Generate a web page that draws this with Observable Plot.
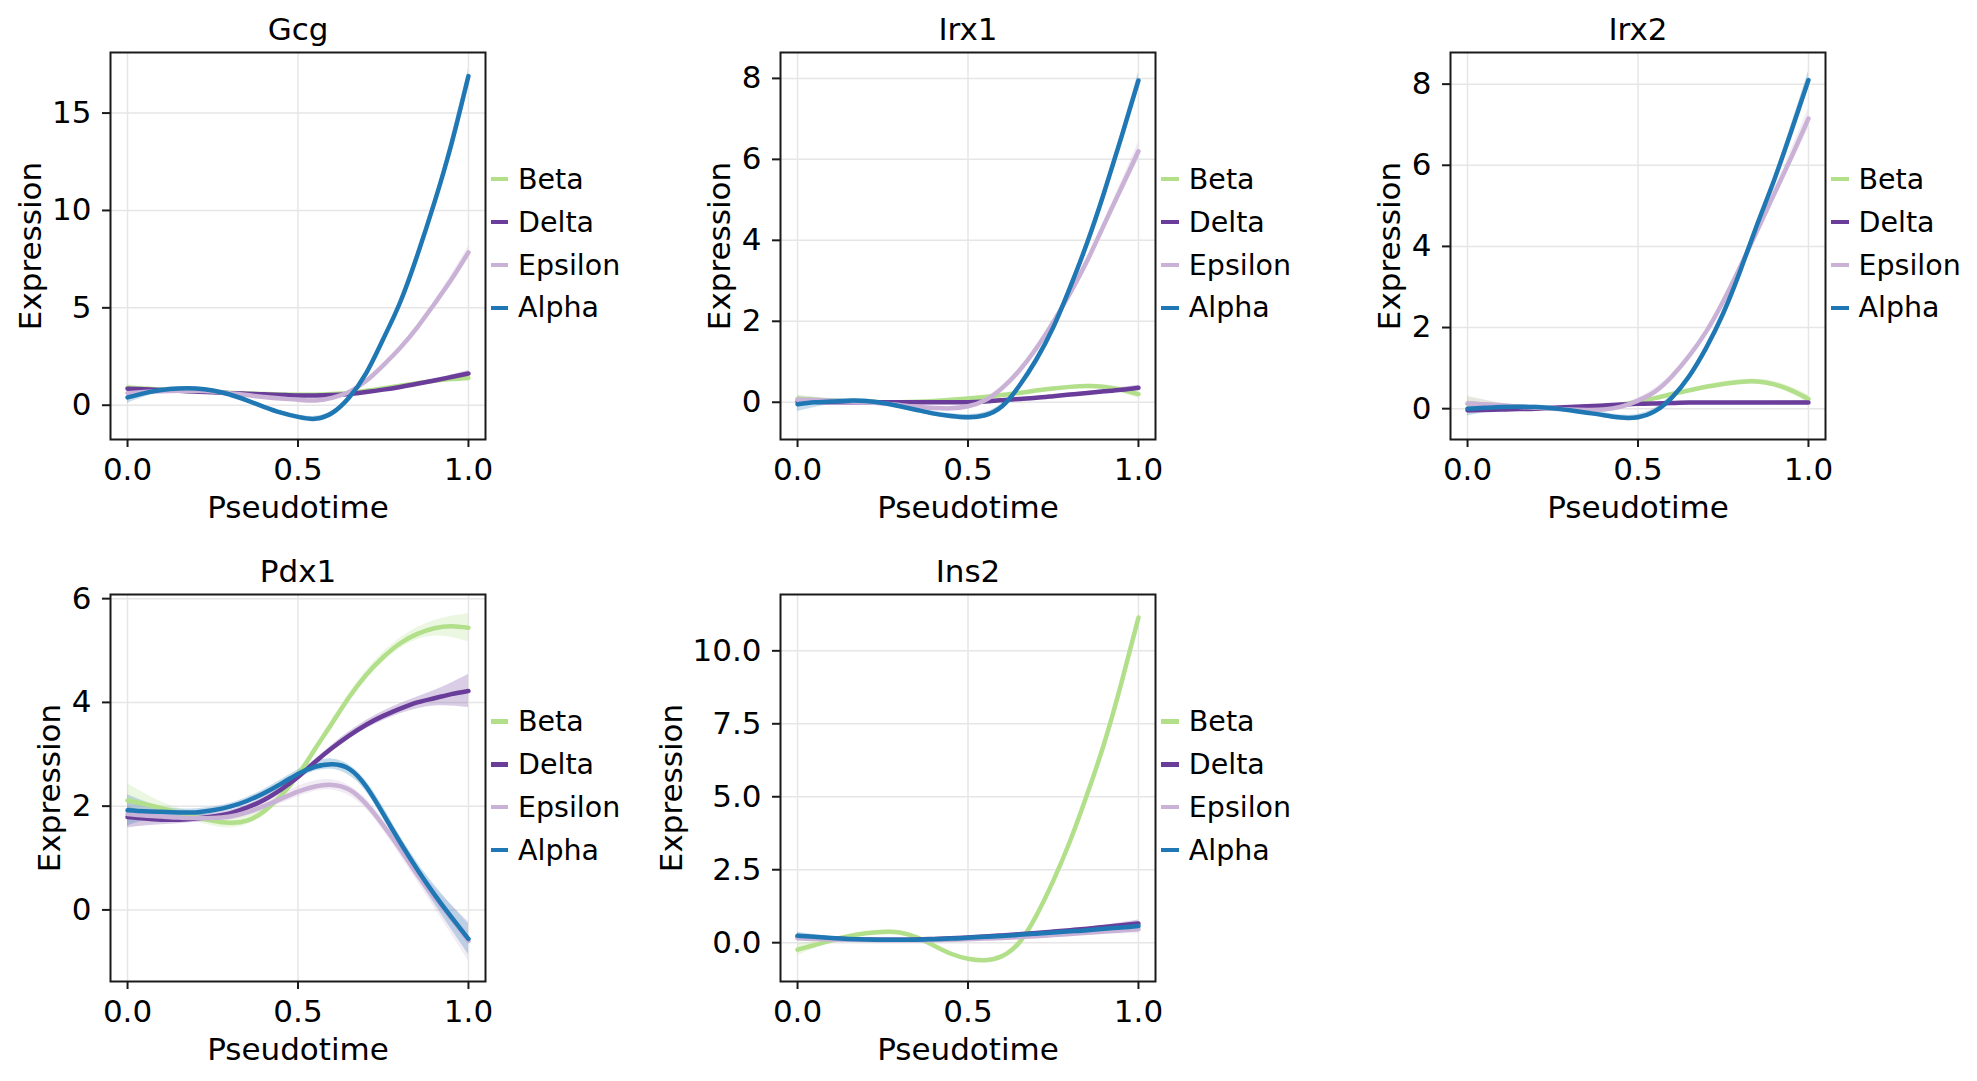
<!DOCTYPE html>
<html><head><meta charset="utf-8">
<script src="https://cdn.jsdelivr.net/npm/d3@7"></script>
<script src="https://cdn.jsdelivr.net/npm/@observablehq/plot@0.6"></script>
<style>
html,body{margin:0;padding:0;background:#fff;overflow:hidden;}
#fig{position:relative;width:1977px;height:1081px;overflow:hidden;background:#fff;}
.panel{position:absolute;}
.legend{position:absolute;font-family:"DejaVu Sans";font-size:28.5px;color:#000;}
.row{display:flex;align-items:center;height:42.9px;white-space:nowrap;}
.sw{width:17.5px;height:4.2px;margin-right:10px;flex:none;}
</style></head><body><div id="fig"></div><script>
// ---------- data ----------
const pseudotime = [0,0.05,0.1,0.15,0.2,0.25,0.3,0.35,0.4,0.45,0.5,0.55,0.6,0.65,0.7,0.75,0.8,0.85,0.9,0.95,1];
const ciTime = [0,0.1,0.2,0.3,0.4,0.5,0.6,0.7,0.8,0.9,1];
const genes = ["Gcg","Irx1","Irx2","Pdx1","Ins2"];
const cellTypes = ["Beta","Delta","Epsilon","Alpha"];
const cellColors = ["#b2df8a","#6a3d9a","#cab2d6","#1f78b4"];
const xTicks = [0,0.5,1];

const gcgBeta    = [0.9,0.85,0.8,0.76,0.72,0.68,0.64,0.6,0.57,0.55,0.54,0.54,0.57,0.63,0.74,0.86,1.0,1.13,1.25,1.34,1.4];
const gcgDelta   = [0.85,0.82,0.78,0.74,0.7,0.66,0.62,0.59,0.56,0.53,0.5,0.5,0.52,0.58,0.68,0.8,0.94,1.1,1.27,1.45,1.63];
const gcgEpsilon = [0.62,0.68,0.72,0.74,0.74,0.7,0.62,0.52,0.42,0.34,0.28,0.24,0.38,0.68,1.25,2.05,2.95,4.0,5.2,6.45,7.85];
const gcgAlpha   = [0.4,0.62,0.78,0.86,0.86,0.76,0.55,0.25,-0.08,-0.38,-0.6,-0.7,-0.4,0.4,1.65,3.4,5.3,7.7,10.4,13.4,16.9];

const irx1Beta    = [0.08,0.06,0.04,0.02,0.01,0.0,0.0,0.01,0.03,0.06,0.09,0.13,0.18,0.23,0.29,0.34,0.38,0.4,0.38,0.31,0.2];
const irx1Delta   = [0.02,0.01,0.0,0.0,0.0,0.0,0.0,0.0,0.0,0.0,0.0,0.02,0.05,0.08,0.11,0.15,0.19,0.23,0.27,0.31,0.36];
const irx1Epsilon = [0.06,0.05,0.04,0.02,0.0,-0.03,-0.07,-0.11,-0.14,-0.15,-0.1,0.05,0.35,0.78,1.33,1.98,2.7,3.5,4.4,5.3,6.2];
const irx1Alpha   = [-0.05,0.0,0.02,0.04,0.03,-0.02,-0.1,-0.19,-0.28,-0.34,-0.37,-0.32,-0.1,0.4,1.05,1.85,2.85,3.95,5.2,6.55,7.95];

const irx2Beta    = [0.12,0.1,0.07,0.04,0.02,0.01,0.01,0.02,0.05,0.1,0.17,0.26,0.36,0.45,0.54,0.61,0.66,0.67,0.6,0.45,0.24];
const irx2Delta   = [-0.04,-0.03,-0.02,-0.01,0.0,0.02,0.04,0.06,0.08,0.1,0.12,0.13,0.14,0.15,0.15,0.15,0.15,0.15,0.15,0.15,0.15];
const irx2Epsilon = [0.13,0.11,0.08,0.05,0.02,0.0,-0.02,-0.03,-0.02,0.05,0.2,0.42,0.8,1.3,1.9,2.65,3.5,4.4,5.3,6.2,7.15];
const irx2Alpha   = [0.0,0.02,0.04,0.05,0.04,0.01,-0.04,-0.1,-0.16,-0.22,-0.21,-0.06,0.28,0.8,1.5,2.35,3.4,4.55,5.65,6.85,8.1];

const pdx1Beta    = [2.11,2.04,1.96,1.87,1.79,1.72,1.68,1.72,1.9,2.2,2.6,3.1,3.6,4.1,4.53,4.87,5.14,5.32,5.43,5.47,5.44];
const pdx1Delta   = [1.79,1.76,1.74,1.74,1.76,1.8,1.86,1.97,2.12,2.32,2.56,2.85,3.12,3.36,3.57,3.74,3.88,4.0,4.08,4.16,4.22];
const pdx1Epsilon = [1.85,1.82,1.8,1.78,1.77,1.77,1.8,1.88,2.0,2.14,2.28,2.38,2.41,2.32,2.04,1.63,1.17,0.68,0.24,-0.17,-0.6];
const pdx1Alpha   = [1.92,1.9,1.89,1.88,1.88,1.92,1.99,2.1,2.25,2.43,2.62,2.76,2.81,2.72,2.38,1.85,1.3,0.78,0.3,-0.14,-0.56];

const ins2Beta    = [-0.24,-0.08,0.08,0.22,0.32,0.37,0.35,0.18,-0.1,-0.38,-0.55,-0.6,-0.46,0.0,0.92,2.12,3.5,5.1,6.85,8.9,11.14];
const ins2Delta   = [0.2,0.17,0.14,0.12,0.11,0.1,0.1,0.11,0.13,0.15,0.18,0.21,0.25,0.29,0.33,0.38,0.43,0.48,0.54,0.6,0.66];
const ins2Epsilon = [0.15,0.13,0.11,0.1,0.09,0.08,0.08,0.08,0.09,0.1,0.12,0.14,0.16,0.19,0.22,0.26,0.3,0.34,0.38,0.42,0.46];
const ins2Alpha   = [0.24,0.2,0.16,0.13,0.11,0.1,0.1,0.1,0.12,0.14,0.17,0.2,0.23,0.27,0.31,0.35,0.39,0.43,0.48,0.52,0.57];

// confidence half-widths at ciTime
const gcgBetaCi    = [0.15,0.08,0.06,0.05,0.05,0.05,0.05,0.05,0.06,0.08,0.15];
const gcgDeltaCi   = [0.12,0.07,0.05,0.04,0.04,0.04,0.04,0.04,0.05,0.07,0.15];
const gcgEpsilonCi = [0.15,0.08,0.06,0.05,0.06,0.07,0.08,0.08,0.1,0.15,0.3];
const gcgAlphaCi   = [0.3,0.12,0.08,0.07,0.08,0.1,0.1,0.1,0.12,0.18,0.35];
const irx1BetaCi    = [0.1,0.04,0.03,0.03,0.03,0.03,0.03,0.03,0.04,0.05,0.1];
const irx1DeltaCi   = [0.06,0.03,0.02,0.02,0.02,0.02,0.02,0.02,0.03,0.04,0.06];
const irx1EpsilonCi = [0.1,0.05,0.04,0.04,0.05,0.06,0.06,0.06,0.08,0.1,0.22];
const irx1AlphaCi   = [0.18,0.07,0.05,0.05,0.06,0.07,0.07,0.07,0.08,0.1,0.2];
const irx2BetaCi    = [0.2,0.06,0.04,0.04,0.04,0.04,0.04,0.05,0.06,0.07,0.1];
const irx2DeltaCi   = [0.08,0.03,0.02,0.02,0.02,0.02,0.02,0.02,0.03,0.04,0.06];
const irx2EpsilonCi = [0.15,0.06,0.04,0.04,0.05,0.06,0.06,0.06,0.08,0.12,0.25];
const irx2AlphaCi   = [0.18,0.07,0.05,0.05,0.06,0.07,0.07,0.07,0.08,0.1,0.22];
const pdx1BetaCi    = [0.32,0.12,0.08,0.1,0.08,0.08,0.08,0.08,0.1,0.15,0.27];
const pdx1DeltaCi   = [0.2,0.1,0.07,0.06,0.06,0.06,0.06,0.08,0.1,0.15,0.32];
const pdx1EpsilonCi = [0.28,0.12,0.08,0.07,0.08,0.1,0.1,0.1,0.12,0.2,0.38];
const pdx1AlphaCi   = [0.3,0.1,0.07,0.06,0.07,0.08,0.1,0.1,0.12,0.18,0.3];
const ins2BetaCi    = [0.2,0.08,0.06,0.05,0.05,0.05,0.05,0.05,0.06,0.08,0.12];
const ins2DeltaCi   = [0.1,0.04,0.03,0.03,0.03,0.03,0.03,0.03,0.04,0.06,0.12];
const ins2EpsilonCi = [0.12,0.05,0.04,0.04,0.04,0.04,0.04,0.04,0.05,0.08,0.15];
const ins2AlphaCi   = [0.12,0.05,0.04,0.04,0.04,0.04,0.04,0.04,0.05,0.06,0.1];

// y tick labels
const gcgTicks  = [0,5,10,15];
const irx1Ticks = [0,2,4,6,8];
const irx2Ticks = [0,2,4,6,8];
const pdx1Ticks = [0,2,4,6];
const ins2Ticks = [0,2.5,5,7.5,10];

// ---------- layout ----------
const FW = 375, FH = 387, ML = 135, MR = 6, MT = 60, MB = 95;
const TICK_FONT = 31, LABEL_FONT = 31;
const panels = [
  {name: genes[0], series: [gcgBeta,gcgDelta,gcgEpsilon,gcgAlpha], ci: [gcgBetaCi,gcgDeltaCi,gcgEpsilonCi,gcgAlphaCi], ticks: gcgTicks, fmt: d3.format("d"), domain: [-1.76, 18.11], left: 109.5, top: 51.7},
  {name: genes[1], series: [irx1Beta,irx1Delta,irx1Epsilon,irx1Alpha], ci: [irx1BetaCi,irx1DeltaCi,irx1EpsilonCi,irx1AlphaCi], ticks: irx1Ticks, fmt: d3.format("d"), domain: [-0.92, 8.64], left: 780.3, top: 51.7},
  {name: genes[2], series: [irx2Beta,irx2Delta,irx2Epsilon,irx2Alpha], ci: [irx2BetaCi,irx2DeltaCi,irx2EpsilonCi,irx2AlphaCi], ticks: irx2Ticks, fmt: d3.format("d"), domain: [-0.76, 8.78], left: 1450, top: 51.7},
  {name: genes[3], series: [pdx1Beta,pdx1Delta,pdx1Epsilon,pdx1Alpha], ci: [pdx1BetaCi,pdx1DeltaCi,pdx1EpsilonCi,pdx1AlphaCi], ticks: pdx1Ticks, fmt: d3.format("d"), domain: [-1.38, 6.08], left: 109.5, top: 594},
  {name: genes[4], series: [ins2Beta,ins2Delta,ins2Epsilon,ins2Alpha], ci: [ins2BetaCi,ins2DeltaCi,ins2EpsilonCi,ins2AlphaCi], ticks: ins2Ticks, fmt: d3.format(".1f"), domain: [-1.33, 11.93], left: 780.3, top: 594}
];

const fig = document.getElementById("fig");

function labelOffset(ticks, fmt) {
  let best = 0;
  for (const t of ticks) {
    const s = fmt(t);
    let w = 0;
    for (const ch of s) w += (ch === ".") ? 9.5 : 19;
    best = Math.max(best, w);
  }
  return 32 + best;
}

for (const p of panels) {
  const lines = [];
  const bands = [];
  cellTypes.forEach((ct, k) => {
    const ys = p.series[k];
    ys.forEach((v, i) => lines.push({x: pseudotime[i], y: v, ct}));
    p.ci[k].forEach((w, j) => {
      const i = j * 2;
      bands.push({x: ciTime[j], lo: ys[i] - w, hi: ys[i] + w, ct});
    });
  });
  const chart = Plot.plot({
    width: ML + FW + MR,
    height: MT + FH + MB,
    marginLeft: ML, marginRight: MR, marginTop: MT, marginBottom: MB,
    style: {fontFamily: "DejaVu Sans", background: "transparent", color: "#000", overflow: "visible"},
    x: {domain: [-0.05, 1.05]},
    y: {domain: p.domain},
    color: {domain: cellTypes, range: cellColors},
    marks: [
      Plot.gridX(xTicks, {stroke: "#e6e6e6", strokeOpacity: 1, strokeWidth: 1.5}),
      Plot.gridY(p.ticks, {stroke: "#e6e6e6", strokeOpacity: 1, strokeWidth: 1.5}),
      Plot.areaY(bands, {x: "x", y1: "lo", y2: "hi", z: "ct", fill: "ct", fillOpacity: 0.25, curve: "natural"}),
      Plot.line(lines, {x: "x", y: "y", z: "ct", stroke: "ct", strokeWidth: 4.5, curve: "natural"}),
      Plot.frame({stroke: "#1a1a1a", strokeWidth: 2}),
      Plot.axisX(xTicks, {tickFormat: d3.format(".1f"), tickSize: 8, tickPadding: 10.5, fontSize: TICK_FONT, stroke: "#1a1a1a", strokeWidth: 2, fill: "#000", label: null}),
      Plot.axisY(p.ticks, {tickFormat: p.fmt, tickSize: 8, tickPadding: 11, fontSize: TICK_FONT, stroke: "#1a1a1a", strokeWidth: 2, fill: "#000", label: null}),
      Plot.text([p.name], {frameAnchor: "top", dy: -12.5, lineAnchor: "bottom", fontSize: LABEL_FONT, fill: "#000"}),
      Plot.text(["Pseudotime"], {frameAnchor: "bottom", dy: 78.5, lineAnchor: "bottom", fontSize: LABEL_FONT, fill: "#000"}),
      Plot.text(["Expression"], {frameAnchor: "left", dx: -labelOffset(p.ticks, p.fmt), rotate: -90, textAnchor: "middle", lineAnchor: "bottom", fontSize: LABEL_FONT, fill: "#000"})
    ]
  });
  const div = document.createElement("div");
  div.className = "panel";
  div.style.left = (p.left - ML) + "px";
  div.style.top = (p.top - MT) + "px";
  div.appendChild(chart);
  fig.appendChild(div);

  // legend
  const lg = document.createElement("div");
  lg.className = "legend";
  lg.style.left = (p.left + FW + 6) + "px";
  lg.style.top = (p.top + FH / 2 - 2 * 42.9 - 1.6) + "px";
  cellTypes.forEach((ct, k) => {
    const row = document.createElement("div");
    row.className = "row";
    const sw = document.createElement("span");
    sw.className = "sw";
    sw.style.background = cellColors[k];
    const tx = document.createElement("span");
    tx.textContent = ct;
    row.appendChild(sw);
    row.appendChild(tx);
    lg.appendChild(row);
  });
  fig.appendChild(lg);
}
</script></body></html>
